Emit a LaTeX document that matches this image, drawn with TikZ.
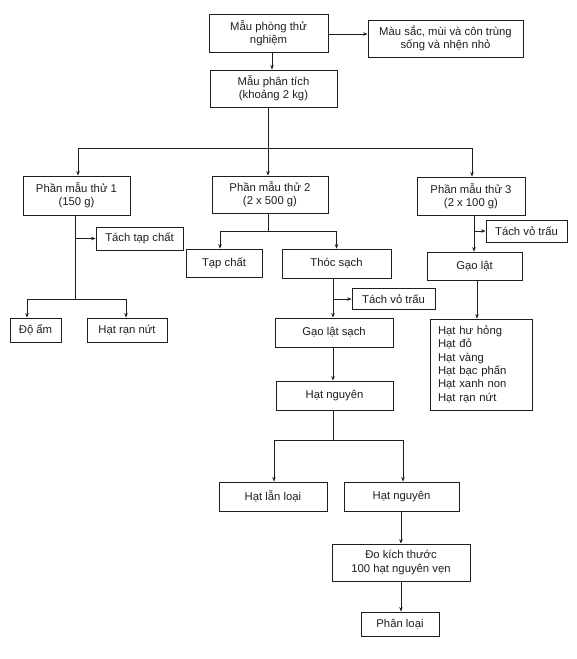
\documentclass[tikz,border=0pt]{standalone}
\usepackage{fontspec}
\setmainfont{Liberation Sans}
\usetikzlibrary{arrows.meta}
\definecolor{ink}{HTML}{1E1E1E}
\begin{document}
\begin{tikzpicture}[x=1pt,y=-1pt,
  box/.style={draw=ink, line width=0.8pt, inner sep=0pt, align=center, text=ink,
    font=\fontsize{11.3}{13.3}\selectfont},
  conn/.style={draw=ink, line width=0.8pt},
  arr/.style={conn, -{Stealth[length=4.5pt,width=3.5pt]}}]
\useasboundingbox (0,0) rectangle (576,659);
% nodes
\node[box, minimum width=119pt, minimum height=38pt] (n1) at (268.5,33) {Mẫu phòng thử\\nghiệm};
\node[box, minimum width=155pt, minimum height=37pt] (n2) at (445.5,38.5) {Màu sắc, mùi và côn trùng\\sống và nhện nhỏ};
\node[box, minimum width=127pt, minimum height=37pt] (n3) at (273.5,88.5) {Mẫu phân tích\\(khoảng 2 kg)};
\node[box, minimum width=107pt, minimum height=39pt] (pm1) at (76.5,195.5) {Phần mẫu thử 1\\(150 g)};
\node[box, minimum width=116pt, minimum height=37pt] (pm2) at (270,194.5) {Phần mẫu thử 2\\(2 x 500 g)};
\node[box, minimum width=108pt, minimum height=38pt] (pm3) at (471,196) {Phần mẫu thử 3\\(2 x 100 g)};
\node[box, minimum width=87pt, minimum height=23pt] (tach1) at (139.5,238.5) {Tách tạp chất};
\node[box, minimum width=51pt, minimum height=24pt] (doam) at (35.5,330) {Độ ẩm};
\node[box, minimum width=80pt, minimum height=24pt] (hrn1) at (127,330) {Hạt rạn nứt};
\node[box, minimum width=76pt, minimum height=28pt] (tapchat) at (224,263) {Tạp chất};
\node[box, minimum width=109pt, minimum height=29pt] (thoc) at (336.5,263.5) {Thóc sạch};
\node[box, minimum width=83pt, minimum height=21pt] (tach2) at (393.5,299) {Tách vỏ trấu};
\node[box, minimum width=118pt, minimum height=29pt] (gls) at (334,332.5) {Gạo lật sạch};
\node[box, minimum width=117pt, minimum height=29pt] (hn1) at (334.5,395.5) {Hạt nguyên};
\node[box, minimum width=108pt, minimum height=29pt] (hll) at (273,496.5) {Hạt lẫn loại};
\node[box, minimum width=115pt, minimum height=29pt] (hn2) at (401.5,496.5) {Hạt nguyên};
\node[box, minimum width=138pt, minimum height=37pt] (dkt) at (401,562.5) {Đo kích thước\\100 hạt nguyên vẹn};
\node[box, minimum width=78pt, minimum height=24pt] (pl) at (400,624) {Phân loại};
\node[box, minimum width=81pt, minimum height=22pt] (tach3) at (526.5,231) {Tách vỏ trấu};
\node[box, minimum width=95pt, minimum height=28pt] (gaolat) at (474.5,266) {Gạo lật};
\node[box, minimum width=102pt, minimum height=91pt, align=left, text width=86pt, inner xsep=8pt] (list) at (481,364.5)
  {Hạt hư hỏng\\Hạt đỏ\\Hạt vàng\\Hạt bạc phấn\\Hạt xanh non\\Hạt rạn nứt};
% branch points
\coordinate (s1) at (268,148);
\coordinate (a1) at (75,299);
\coordinate (b1) at (268,231);
\coordinate (c1) at (333,440);
% connectors
\draw[arr] (n1.east |- 0,34) -- (n2.west |- 0,34);
\draw[arr] ([xshift=3.5pt]n1.south) -- ([xshift=-1.5pt]n3.north);
\draw[conn] (n3.south -| s1) -- (s1);
\draw[arr] (s1) -- (s1 -| 78,0) -- ([xshift=1.5pt]pm1.north);
\draw[arr] (s1) -- (s1 |- pm2.north);
\draw[arr] (s1) -- (s1 -| 472,0) -- ([xshift=1pt]pm3.north);
% branch 1
\draw[conn] (pm1.south -| a1) -- (a1);
\draw[arr] (a1 |- tach1.west) -- (tach1.west);
\draw[arr] (a1) -- (a1 -| 27,0) -- ([xshift=-8.5pt]doam.north);
\draw[arr] (a1) -| ([xshift=-1pt]hrn1.north);
% branch 2
\draw[conn] (pm2.south -| b1) -- (b1);
\draw[arr] (b1) -- (b1 -| 220,0) -- ([xshift=-4pt]tapchat.north);
\draw[arr] (b1) -| (thoc.north);
\draw[arr] (thoc.south -| c1) -- (gls.north -| c1);
\draw[arr] (c1 |- tach2.west) -- (tach2.west);
\draw[arr] (gls.south -| c1) -- (hn1.north -| c1);
\draw[conn] (hn1.south -| c1) -- (c1);
\draw[arr] (c1) -- (c1 -| 274,0) -- ([xshift=1pt]hll.north);
\draw[arr] (c1) -- (c1 -| 403,0) -- ([xshift=1.5pt]hn2.north);
\draw[arr] (hn2.south -| dkt.north) -- (dkt.north);
\draw[arr] (dkt.south -| 401,0) -- (pl.north -| 401,0);
% branch 3
\draw[arr] (pm3.south -| 474,0) -- (gaolat.north -| 474,0);
\draw[arr] (tach3.west -| 474,0) -- (tach3.west);
\draw[arr] (gaolat.south -| 477,0) -- (list.north -| 477,0);
\end{tikzpicture}
\end{document}
